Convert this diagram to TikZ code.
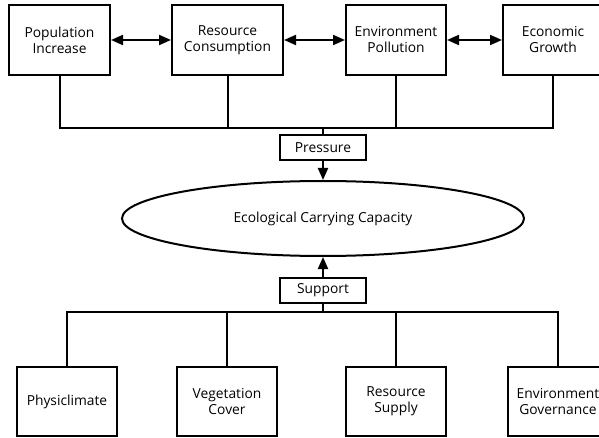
\documentclass[tikz,border=0pt]{standalone}
\usepackage{fontspec}
\setmainfont{Open Sans}
\usetikzlibrary{arrows.meta,shapes.geometric}
\begin{document}
\begin{tikzpicture}[x=1pt,y=-1pt,
  box/.style={draw,line width=2pt,minimum height=70pt,minimum width=100pt,align=center,inner sep=0pt,font=\fontsize{13.8}{16}\selectfont},
  lab/.style={draw,line width=2pt,minimum height=25pt,minimum width=86pt,inner sep=0pt,font=\fontsize{13.8}{16}\selectfont},
  conn/.style={line width=2pt},
  arr/.style={line width=2pt,-{Triangle[length=12pt,width=10pt]}},
  darr/.style={line width=2pt,{Triangle[length=12pt,width=10pt]}-{Triangle[length=12pt,width=10pt]}}]
\useasboundingbox (0,0) rectangle (599,438);
\clip (0,0) rectangle (599,438);
\node[box,minimum width=101pt] (p1) at (59.5,40) {Population\\Increase};
\node[box,minimum width=111pt] (p2) at (227.5,40) {Resource\\Consumption};
\node[box] (p3) at (396,40) {Environment\\Pollution};
\node[box] (p4) at (553,40) {Economic\\Growth};
\draw[darr] (p1) -- (p2);
\draw[darr] (p2) -- (p3);
\draw[darr] (p3) -- (p4);
\coordinate (tb) at (323,128);
\node[lab] (pr) at (323,147.5) {Pressure};
\node[draw,ellipse,line width=2pt,minimum width=402pt,minimum height=75pt,inner sep=0pt,font=\fontsize{13.8}{16}\selectfont] (ecc) at (323,218.5) {Ecological Carrying Capacity};
\node[lab] (su) at (323,290.5) {Support};
\coordinate (bb) at (323,312);
\draw[conn] (p1.south) -- (p1.south |- tb) -- (p4.south |- tb) -- (p4.south);
\draw[conn] (p2.south) -- (p2.south |- tb);
\draw[conn] (p3.south) -- (p3.south |- tb);
\draw[conn] (tb) -- (pr.north);
\draw[arr] (pr.south) -- (ecc.north);
\draw[arr] (su.north) -- (ecc.south);
\node[box,minimum height=69pt] (b1) at (67,401.5) {Physiclimate};
\node[box,minimum height=69pt] (b2) at (227,401.5) {Vegetation\\Cover};
\node[box,minimum height=69pt] (b3) at (396,401.5) {Resource\\Supply};
\node[box,minimum height=69pt] (b4) at (558,401.5) {Environment\\Governance};
\draw[conn] (su.south) -- (bb);
\draw[conn] (b1.north) -- (b1.north |- bb) -- (b4.north |- bb) -- (b4.north);
\draw[conn] (b2.north) -- (b2.north |- bb);
\draw[conn] (b3.north) -- (b3.north |- bb);
\end{tikzpicture}
\end{document}
